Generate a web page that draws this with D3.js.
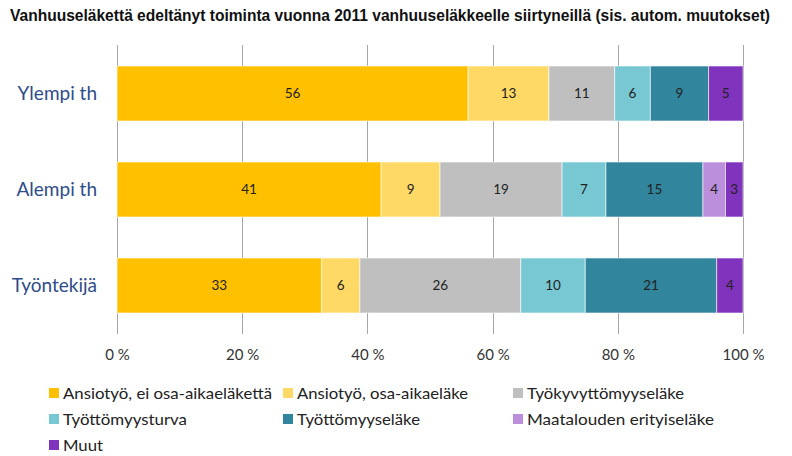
<!DOCTYPE html>
<html><head><meta charset="utf-8">
<script src="https://cdn.jsdelivr.net/npm/d3@7"></script>
<style>body{margin:0;background:#fff}svg{display:block}</style>
</head><body>
<svg id="c" width="792" height="456"></svg>
<script>
const title = "Vanhuuseläkettä edeltänyt toiminta vuonna 2011 vanhuuseläkkeelle siirtyneillä (sis. autom. muutokset)";
const categories = ["Ylempi th", "Alempi th", "Työntekijä"];
const seriesNames = ["Ansiotyö, ei osa-aikaeläkettä", "Ansiotyö, osa-aikaeläke", "Työkyvyttömyyseläke", "Työttömyysturva", "Työttömyyseläke", "Maatalouden erityiseläke", "Muut"];
const seriesColors = ["#FFC000", "#FFD966", "#BFBFBF", "#78C8D4", "#31859C", "#BC8FDD", "#8033BC"];
// bar lengths as measured in the picture (per category, per series)
const valYlempi = [56.1, 12.9, 10.5, 5.7, 9.3, 0, 5.5];
const valAlempi = [42.2, 9.4, 19.5, 7.0, 15.5, 3.6, 2.8];
const valTyontekija = [32.7, 6.1, 25.7, 10.3, 21.0, 0, 4.2];
// printed labels
const lblYlempi = ["56", "13", "11", "6", "9", "", "5"];
const lblAlempi = ["41", "9", "19", "7", "15", "4", "3"];
const lblTyontekija = ["33", "6", "26", "10", "21", "", "4"];
const ticks = [0, 20, 40, 60, 80, 100];

const values = [valYlempi, valAlempi, valTyontekija];
const labels = [lblYlempi, lblAlempi, lblTyontekija];

const svg = d3.select("#c");
const x = d3.scaleLinear().domain([0, 100]).range([117, 743]);
const y = d3.scaleBand().domain(categories).range([66, 313]).paddingInner(0.427).paddingOuter(0);

svg.append("text").attr("x", 10).attr("y", 21)
  .attr("font-family", "'Liberation Sans', Arial, sans-serif")
  .attr("font-weight", "bold").attr("font-size", 16).attr("fill", "#111")
  .attr("textLength", 760).attr("lengthAdjust", "spacingAndGlyphs").text(title);

// gridlines
svg.append("g").selectAll("line").data(ticks).join("line")
  .attr("x1", d => Math.round(x(d)) + 0.5).attr("x2", d => Math.round(x(d)) + 0.5)
  .attr("y1", 45).attr("y2", 334).attr("stroke", "#A6A6A6").attr("stroke-width", 1);

// x axis labels
const xa = svg.append("g").attr("transform", "translate(0,334)")
  .call(d3.axisBottom(x).tickValues(ticks).tickFormat(d => d + " %").tickSize(0).tickPadding(15));
xa.select(".domain").remove();
xa.selectAll("text").attr("font-family", "Lato, 'Open Sans', sans-serif").attr("font-size", 15).attr("fill", "#333");

// bars
const rows = svg.append("g").selectAll("g").data(categories).join("g");
rows.each(function(cat, i) {
  let acc = 0;
  const segs = values[i].map((v, j) => { const s = {x0: acc, x1: acc + v, c: seriesColors[j], l: labels[i][j]}; acc += v; return s; });
  const g = d3.select(this);
  g.selectAll("rect").data(segs.filter(s => s.x1 > s.x0)).join("rect")
    .attr("x", s => x(s.x0)).attr("width", s => x(s.x1) - x(s.x0))
    .attr("y", y(cat)).attr("height", y.bandwidth())
    .attr("fill", s => s.c).attr("stroke", "#fff").attr("stroke-opacity", 0.6).attr("stroke-width", 1);
  g.selectAll("text").data(segs.filter(s => s.l !== "")).join("text")
    .attr("x", s => (x(s.x0) + x(s.x1)) / 2).attr("y", y(cat) + y.bandwidth() / 2)
    .attr("dy", "0.35em").attr("text-anchor", "middle")
    .attr("font-family", "Lato, 'Open Sans', sans-serif").attr("font-size", 13.5).attr("fill", "#222")
    .text(s => s.l);
});

// category labels
svg.append("g").selectAll("text").data(categories).join("text")
  .attr("x", 97).attr("y", d => y(d) + y.bandwidth() / 2).attr("dy", "0.35em")
  .attr("text-anchor", "end").attr("font-family", "Lato, 'Open Sans', sans-serif")
  .attr("font-size", 19).attr("fill", "#2E4C8A").text(d => d);

// legend
const legX = [49, 283, 513];
const legY = [393, 419, 445];
const legW = [209, 171, 157, 124, 123, 187, 40];
const leg = svg.append("g").selectAll("g").data(seriesNames).join("g")
  .attr("transform", (d, i) => `translate(${legX[i % 3]},${legY[Math.floor(i / 3)]})`);
leg.append("rect").attr("x", 0).attr("y", -5).attr("width", 10).attr("height", 10)
  .attr("fill", (d, i) => seriesColors[i]);
leg.append("text").attr("x", 14).attr("dy", "0.35em")
  .attr("font-family", "Lato, 'Open Sans', sans-serif")
  .attr("font-size", 16).attr("fill", "#222")
  .attr("textLength", (d, i) => legW[i]).attr("lengthAdjust", "spacingAndGlyphs")
  .text(d => d);
</script>
</body></html>
